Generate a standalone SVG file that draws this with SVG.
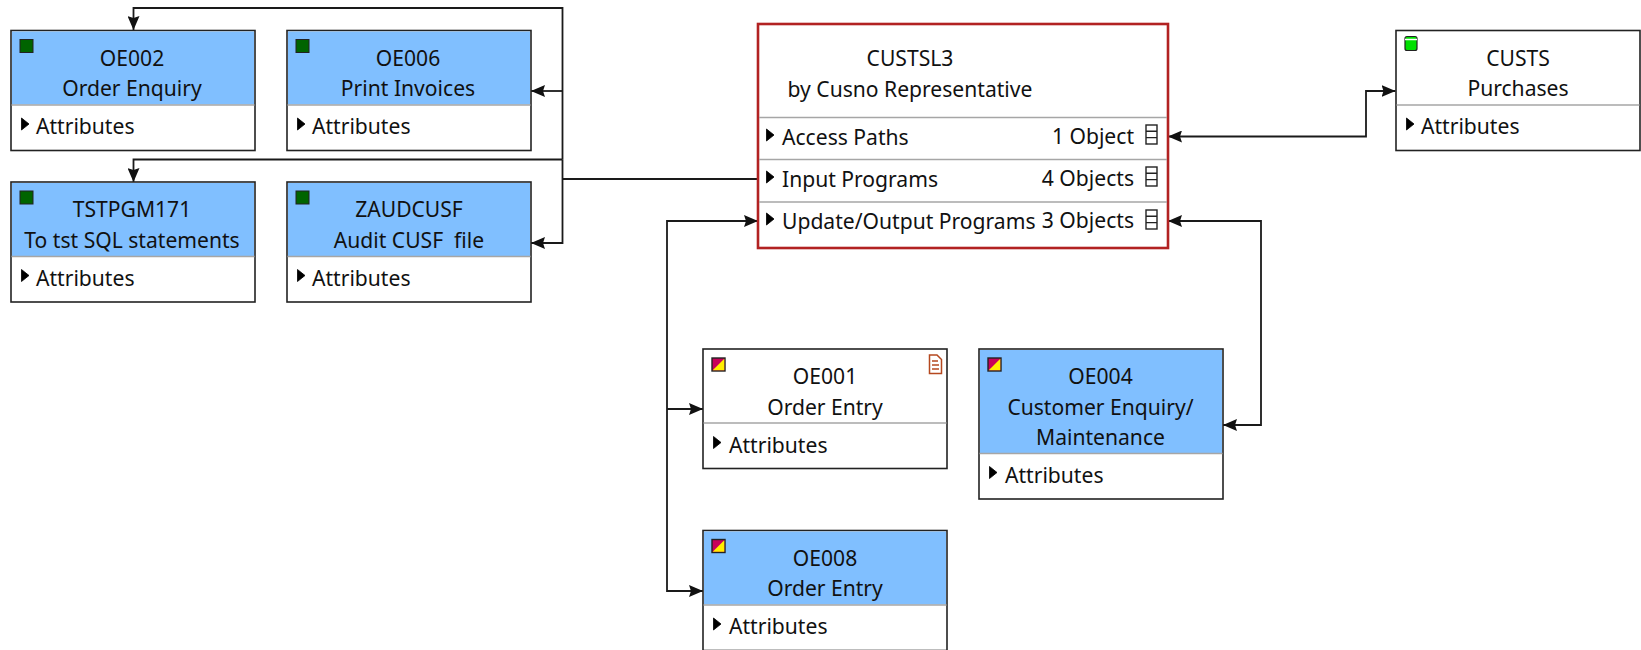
<svg xmlns="http://www.w3.org/2000/svg" width="1641" height="650" viewBox="0 0 1641 650">
<style>
text{font-family:"Noto Sans","Open Sans","Liberation Sans",sans-serif;font-size:21.1px;fill:#111;transform:translateY(.7px)}
.m{text-anchor:middle}.e{text-anchor:end}
.box{fill:#fff;stroke:#222;stroke-width:1.6}
.hd{fill:#80bfff}
.sep{stroke:#a6a6a6;stroke-width:1.6;fill:none}
.ln{stroke:#222;stroke-width:1.4;fill:none}
.tri{fill:#000;stroke:#000;stroke-width:.8}
.g{fill:#006400;stroke:#222;stroke-width:1}
.mg{fill:#c8005a;stroke:#222;stroke-width:1.4}
.ye{fill:#ffee00}
.lst{fill:#fff;stroke:#222;stroke-width:1.4}
.conn{fill:none;stroke:#1a1a1a;stroke-width:1.8}
</style>
<defs>
<marker id="a" viewBox="0 0 14 12" refX="14" refY="6" markerWidth="14" markerHeight="12" markerUnits="userSpaceOnUse" orient="auto-start-reverse"><path d="M0 0L14 6L0 12L2 6Z" fill="#111"/></marker>
</defs>
<g id="connectors" class="conn">
<path d="M562.5 179H758"/>
<path d="M562.5 159.5V8H133.5V30" marker-end="url(#a)"/>
<path d="M562.5 91H531" marker-end="url(#a)"/>
<path d="M562.5 159.5H133.5V182" marker-end="url(#a)"/>
<path d="M562.5 159.5V243H531" marker-end="url(#a)"/>
<path d="M1168 136.5H1366V91H1395.5" marker-start="url(#a)" marker-end="url(#a)"/>
<path d="M1168 221H1261V425H1223" marker-start="url(#a)" marker-end="url(#a)"/>
<path d="M758 221H667V591H703" marker-start="url(#a)" marker-end="url(#a)"/>
<path d="M667 409H703" marker-end="url(#a)"/>
</g>
<g id="OE002">
<rect class="box" x="11" y="30.5" width="244" height="120"/><rect class="hd" x="12" y="31.5" width="242" height="73"/><path class="sep" d="M11.500 105H254.500"/>
<rect class="g" x="20" y="39.500" width="13" height="13"/><text class="m" x="132" y="65">OE002</text><text class="m" x="132" y="95.500">Order Enquiry</text>
<path class="tri" d="M21.500 118L29 124L21.500 130Z"/><text x="36" y="133.500">Attributes</text>
</g>
<g id="OE006">
<rect class="box" x="287" y="30.5" width="244" height="120"/><rect class="hd" x="288" y="31.5" width="242" height="73"/><path class="sep" d="M287.500 105H530.500"/>
<rect class="g" x="296" y="39.500" width="13" height="13"/><text class="m" x="408" y="65">OE006</text><text class="m" x="408" y="95.500">Print Invoices</text>
<path class="tri" d="M297.500 118L305 124L297.500 130Z"/><text x="312" y="133.500">Attributes</text>
</g>
<g id="TSTPGM171">
<rect class="box" x="11" y="182" width="244" height="120"/><rect class="hd" x="12" y="183" width="242" height="73"/><path class="sep" d="M11.500 256.500H254.500"/>
<rect class="g" x="20" y="191" width="13" height="13"/><text class="m" x="132" y="216">TSTPGM171</text><text class="m" x="132" y="247">To tst SQL statements</text>
<path class="tri" d="M21.500 269.500L29 275.500L21.500 281.500Z"/><text x="36" y="285">Attributes</text>
</g>
<g id="ZAUDCUSF">
<rect class="box" x="287" y="182" width="244" height="120"/><rect class="hd" x="288" y="183" width="242" height="73"/><path class="sep" d="M287.500 256.500H530.500"/>
<rect class="g" x="296" y="191" width="13" height="13"/><text class="m" x="409" y="216">ZAUDCUSF</text><text class="m" x="409" y="247" xml:space="preserve">Audit CUSF  file</text>
<path class="tri" d="M297.500 269.500L305 275.500L297.500 281.500Z"/><text x="312" y="285">Attributes</text>
</g>
<g id="CUSTSL3">
<rect x="758" y="24" width="410" height="224" fill="#fff" stroke="#b22222" stroke-width="2.600"/>
<path class="sep" d="M759 117.500H1167M759 159.500H1167M759 202H1167"/>
<text class="m" x="910" y="65">CUSTSL3</text><text class="m" x="910" y="96">by Cusno Representative</text>
<path class="tri" d="M766.500 129L774 135L766.500 141Z"/><text x="782" y="144">Access Paths</text><text class="e" x="1134" y="143">1 Object</text>
<rect class="lst" x="1146" y="125" width="11" height="19"/><path class="ln" d="M1146 131.300H1157M1146 137.600H1157"/>
<path class="tri" d="M766.500 171L774 177L766.500 183Z"/><text x="782" y="186">Input Programs</text><text class="e" x="1134" y="185">4 Objects</text>
<rect class="lst" x="1146" y="167" width="11" height="19"/><path class="ln" d="M1146 173.300H1157M1146 179.600H1157"/>
<path class="tri" d="M766.500 213L774 219L766.500 225Z"/><text x="782" y="228">Update/Output Programs</text><text class="e" x="1134" y="227">3 Objects</text>
<rect class="lst" x="1146" y="210" width="11" height="19"/><path class="ln" d="M1146 216.300H1157M1146 222.600H1157"/>
</g>
<g id="CUSTS">
<rect class="box" x="1396" y="30.5" width="244" height="120"/><path class="sep" d="M1396.500 105H1639.500"/>
<rect x="1405" y="36.500" width="12" height="14" rx="2" fill="#00e000" stroke="#222" stroke-width="1.200"/><path d="M1405 39.500H1417" stroke="#fff" stroke-width="1.500"/>
<text class="m" x="1518" y="65">CUSTS</text><text class="m" x="1518" y="95.500">Purchases</text>
<path class="tri" d="M1406.500 118L1414 124L1406.500 130Z"/><text x="1421" y="133.500">Attributes</text>
</g>
<g id="OE001">
<rect class="box" x="703" y="349" width="244" height="119.500"/><path class="sep" d="M703.500 423H946.500"/>
<rect class="mg" x="712" y="358" width="13" height="13"/><path class="ye" d="M724.300 358.700V370.300H712.700Z"/>
<path d="M929.500 355H937L941.500 359.500V373.500H929.500ZM932 361H938M932 365H939M932 369H939" fill="none" stroke="#b5481f" stroke-width="1.500"/>
<text class="m" x="825" y="383.500">OE001</text><text class="m" x="825" y="414">Order Entry</text>
<path class="tri" d="M713.500 436.500L721 442.500L713.500 448.500Z"/><text x="729" y="452">Attributes</text>
</g>
<g id="OE004">
<rect class="box" x="979" y="349" width="244" height="150"/><rect class="hd" x="980" y="350" width="242" height="103"/><path class="sep" d="M979.500 453.500H1222.500"/>
<rect class="mg" x="988" y="358" width="13" height="13"/><path class="ye" d="M1000.300 358.700V370.300H988.700Z"/>
<text class="m" x="1100.500" y="383.500">OE004</text><text class="m" x="1100.500" y="414">Customer Enquiry/</text><text class="m" x="1100.500" y="444.500">Maintenance</text>
<path class="tri" d="M989.500 466.500L997 472.500L989.500 478.500Z"/><text x="1005" y="482">Attributes</text>
</g>
<g id="OE008">
<rect class="box" x="703" y="530.500" width="244" height="120"/><rect class="hd" x="704" y="531.500" width="242" height="73"/><path class="sep" d="M703.500 605H946.500"/>
<rect class="mg" x="712" y="539.500" width="13" height="13"/><path class="ye" d="M724.300 540.200V551.800H712.700Z"/>
<text class="m" x="825" y="565">OE008</text><text class="m" x="825" y="595.500">Order Entry</text>
<path class="tri" d="M713.500 618L721 624L713.500 630Z"/><text x="729" y="633.500">Attributes</text>
</g>
</svg>
